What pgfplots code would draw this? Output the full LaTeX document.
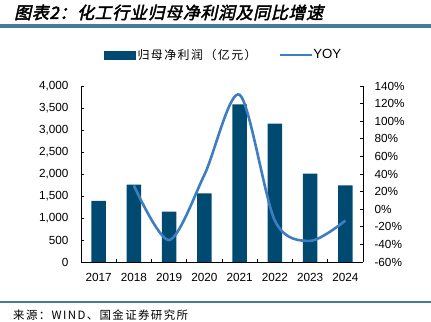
\documentclass[border=0pt]{standalone}
\usepackage{fontspec}
\setmainfont{Liberation Sans}
\newfontfamily\cjk{Noto Sans CJK SC}
\newfontfamily\cjksp[LetterSpace=12]{Noto Sans CJK SC}
\newfontfamily\cjktitle[FakeSlant=0.22,FakeBold=2.5,LetterSpace=4]{Noto Sans CJK SC}
\usepackage{pgfplots}
\pgfplotsset{compat=1.18}
\definecolor{barblue}{RGB}{0,73,112}
\definecolor{lineblue}{RGB}{62,126,192}
\definecolor{rulecol}{RGB}{72,122,155}
\pgfplotsset{common/.style={
  at={(81bp,60bp)}, anchor=south west, scale only axis,
  width=282bp, height=176bp, xmin=-0.5, xmax=7.5,
  axis line style={black, line width=0.8bp, -},
  tick align=inside, major tick length=3bp,
  tick style={black, line width=0.6bp},
  ticklabel style={font=\fontsize{11.8}{14}\selectfont},
}}
\begin{document}
\begin{tikzpicture}
\path (0bp,0bp) rectangle (431bp,322bp);
\begin{axis}[common,
  ymin=0, ymax=4000,
  axis x line*=bottom, axis y line*=left,
  xtick={0.5,1.5,...,6.5}, xticklabels={},
  extra x ticks={0,...,7},
  extra x tick labels={2017,2018,2019,2020,2021,2022,2023,2024},
  extra x tick style={tick style={draw=none}},
  ytick={0,500,...,4000},
  yticklabels={0,500,{1,000},{1,500},{2,000},{2,500},{3,000},{3,500},{4,000}},
  xticklabel style={yshift=-7.5bp},
  yticklabel style={xshift=-9bp},
  legend columns=2,
  legend style={draw=none, fill=none, at={(0.505,1.176)}, anchor=center,
    font=\fontsize{13.3}{15}\selectfont, inner sep=0pt,
    /tikz/every even column/.append style={column sep=20bp}},
  legend cell align=left,
]
\addplot[ybar, bar width=14.7bp, fill=barblue, draw=none,
  legend image code/.code={\fill[barblue] (0bp,-4.5bp) rectangle (32bp,4.5bp);}]
  coordinates {(0,1390) (1,1757) (2,1143) (3,1561) (4,3584) (5,3143) (6,2007) (7,1743)};
\addlegendentry{\cjksp\fontsize{12}{14}\selectfont 归母净利润（亿元）}
\addlegendimage{lineblue, line width=2.6bp,
  legend image code/.code={\draw[lineblue, line width=2.6bp] (0bp,0bp) -- (32bp,0bp);}}
\addlegendentry{\hspace*{-2bp}YOY}
\end{axis}
\begin{axis}[common,
  ymin=-60, ymax=140,
  axis y line*=right, axis x line=none,
  ytick={-60,-40,...,140},
  yticklabels={-60\%,-40\%,-20\%,0\%,20\%,40\%,60\%,80\%,100\%,120\%,140\%},
  yticklabel style={xshift=8bp},
]
\addplot[lineblue, line width=2.6bp, smooth]
  coordinates {(1,27) (2,-35) (3,39) (4,130) (5,-13) (6,-36) (7,-13)};
\end{axis}
\fill[rulecol] (0bp,293.5bp) rectangle (431bp,297.5bp);
\fill[rulecol] (0bp,18.5bp) rectangle (431bp,20.8bp);
\node[anchor=west, inner sep=0] at (14bp,309.5bp) {\cjktitle\fontsize{17}{19}\selectfont 图表2：化工行业归母净利润及同比增速};
\node[anchor=west, inner sep=0] at (13bp,6.5bp) {\cjksp\fontsize{11.5}{13}\selectfont 来源：WIND、国金证券研究所};
\end{tikzpicture}
\end{document}
